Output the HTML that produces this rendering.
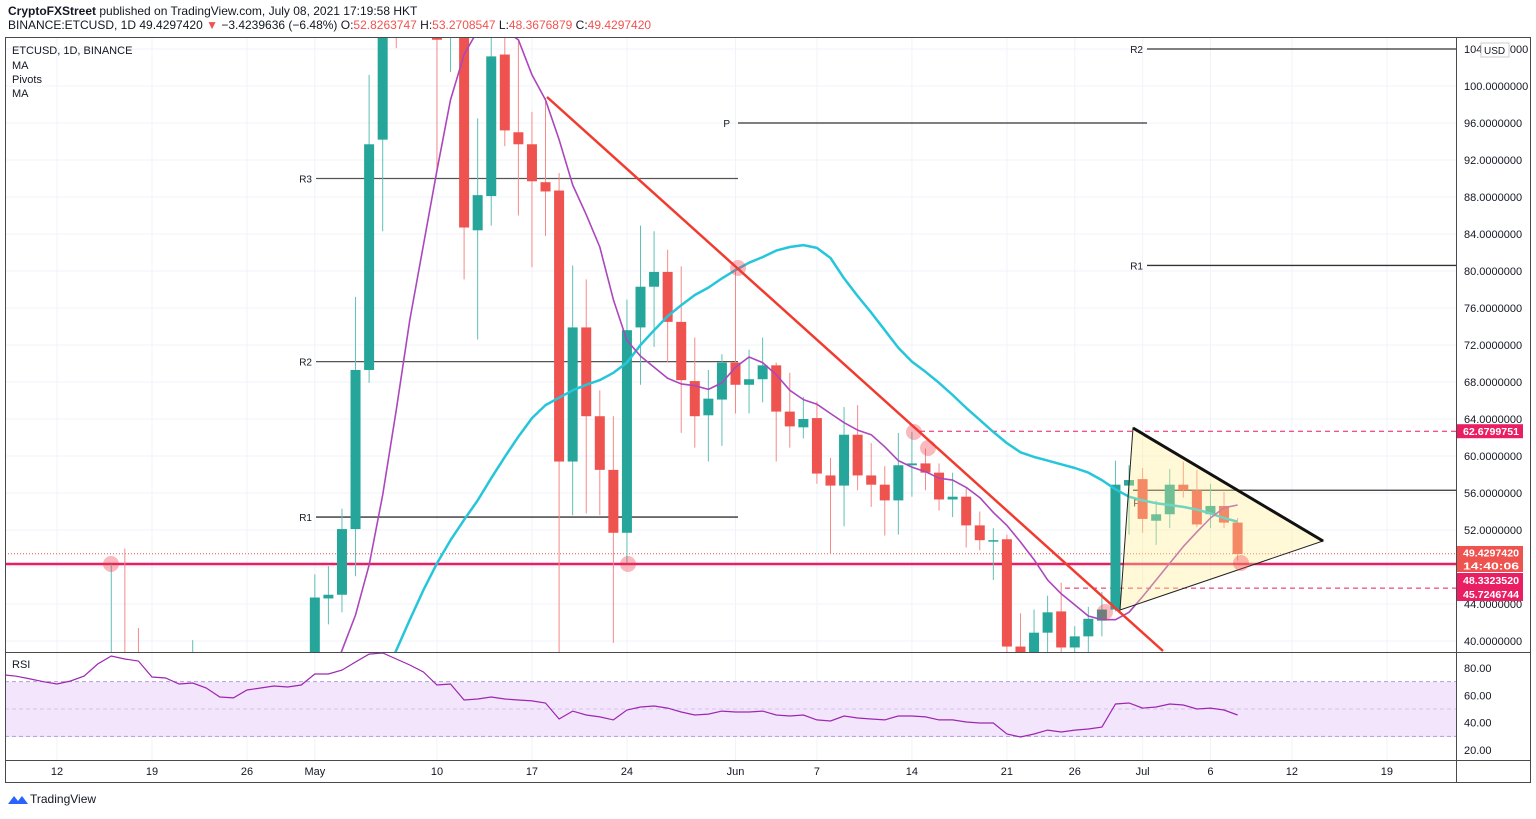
<!DOCTYPE html>
<html><head><meta charset="utf-8"><style>
body{margin:0;background:#fff;width:1536px;height:814px;overflow:hidden;font-family:"Liberation Sans",sans-serif}
svg text{font-family:"Liberation Sans",sans-serif}
</style></head><body>
<svg id="c" width="1536" height="814" xmlns="http://www.w3.org/2000/svg">
<text x="8" y="15" font-size="12" fill="#131722"><tspan font-weight="bold">CryptoFXStreet</tspan> published on TradingView.com, July 08, 2021 17:19:58 HKT</text>
<text x="8" y="29" font-size="12" fill="#131722">BINANCE:ETCUSD, 1D 49.4297420 <tspan fill="#ef5350">▼</tspan> −3.4239636 (−6.48%) O:<tspan fill="#ef5350">52.8263747</tspan> H:<tspan fill="#ef5350">53.2708547</tspan> L:<tspan fill="#ef5350">48.3676879</tspan> C:<tspan fill="#ef5350">49.4297420</tspan></text>
<g id="grid"></g>
<rect x="5" y="682" width="1451" height="55" fill="#f3e5fb"/>
<g id="main" clip-path="url(#pc)"></g>
<g id="rsi" clip-path="url(#rc)"></g>
<defs>
<clipPath id="pc"><rect x="5" y="37" width="1451" height="615"/></clipPath>
<clipPath id="rc"><rect x="5" y="652" width="1451" height="108"/></clipPath>
</defs>
<rect x="5.5" y="37.5" width="1525" height="745" fill="none" stroke="#4a4a4a"/>
<line x1="5" y1="652.5" x2="1530" y2="652.5" stroke="#4a4a4a"/>
<line x1="5" y1="760.5" x2="1530" y2="760.5" stroke="#4a4a4a"/>
<line x1="1456.5" y1="37" x2="1456.5" y2="782" stroke="#4a4a4a"/>
<text x="12" y="54" font-size="11" fill="#131722">ETCUSD, 1D, BINANCE</text>
<text x="12" y="69" font-size="11" fill="#131722">MA</text>
<text x="12" y="83" font-size="11" fill="#131722">Pivots</text>
<text x="12" y="97" font-size="11" fill="#131722">MA</text>
<text x="12" y="668" font-size="11" fill="#131722">RSI</text>
<g id="axes"></g>
<g>
<path d="M8 804 l6 -8 l4 5 l4 -5 l6 8 z" fill="#2962ff"/>
<text x="30" y="803" font-size="12" fill="#131722">TradingView</text>
</g>
</svg>
<script>
// ---------- data ----------
const candleDays=[4,5,6,10,19,20,21,22,23,24,25,26,27,28,29,30,31,32,33,34,35,36,37,38,39,40,41,42,43,44,45,46,47,48,49,50,51,52,53,54,55,56,57,58,59,60,61,62,63,64,65,66,67,68,69,70,71,72,73,74,75,76,77,78,79,80,81,82,83,84,85,86,87];
const opens=[30,32,31,28,38,44.6,45.0,52.1,69.3,94.2,120,110,118,110,105.5,110,84.4,88.1,103.4,95.0,93.7,89.6,88.7,59.4,73.9,64.3,58.5,51.7,73.9,78.3,79.9,74.5,68.1,64.4,66.1,70.1,67.7,68.3,69.8,64.8,63.1,64.1,57.9,56.8,62.3,57.9,56.9,55.2,59.0,59.2,58.2,55.3,55.6,52.5,50.8,51.0,39.4,38.5,40.9,43.2,39.3,40.5,42.2,43.4,56.8,57.5,53.0,53.7,56.9,56.3,53.7,54.6,52.8];
const highs=[48.3,50.0,41.4,40.1,47.2,48.1,54.3,77.2,101.2,115,130,125,125,115,112,115,96.5,108,105.2,104.8,97.2,98.7,90.6,80.6,79.1,67.1,64.3,76.9,84.9,84.3,82.3,80.5,72.8,69.3,71.0,80.1,71.5,72.8,70.1,69.0,66.4,65.9,59.8,65.3,65.5,61.4,58.9,62.5,62.6,60.8,59.2,58.2,56.5,54.0,52.2,51.5,43.0,43.4,44.9,46.3,41.6,43.7,45.3,59.5,59.0,58.7,55.2,58.6,59.4,58.5,57.0,56.1,53.3];
const lows=[28,30,28,26,36,41.8,43.1,47.0,67.9,84.3,104.1,108,108,90.8,101.5,79.1,72.6,84.9,93.5,86.0,80.4,83.8,38,53.6,53.8,53.6,39.8,48.4,67.7,71.8,70.1,62.5,60.9,59.4,61.1,64.6,64.6,65.8,59.4,60.9,61.9,57.0,49.5,52.4,56.3,54.5,51.4,51.5,55.6,56.3,54.1,53.4,50.1,49.8,46.6,36,35,37,38.8,38.8,38.8,38.8,40.5,43.2,51.5,51.7,50.4,52.2,55.5,52.3,52.2,52.2,48.7];
const closes=[32,31,29,29,44.7,45.0,52.1,69.3,93.7,110,110,118,112,105,108,84.7,88.2,103.2,95.2,93.7,89.7,88.6,59.4,73.9,64.3,58.5,51.7,73.6,78.3,79.9,74.5,68.2,64.3,66.2,70.1,67.7,68.3,69.8,64.8,63.2,64.0,58.1,56.8,62.3,57.9,56.9,55.2,59.0,59.2,58.2,55.3,55.6,52.5,50.9,50.9,39.4,37,40.9,43.1,39.3,40.5,42.4,43.4,56.9,57.4,53.2,53.7,56.9,56.3,52.6,54.6,52.8,49.4];
const maSlowStart=24;
const maSlow=[36,39.0,42.3,45.5,48.4,50.9,53.1,55.2,57.6,59.9,62.1,64.1,65.5,66.3,67.1,67.7,68.2,69.0,70.1,72.0,73.6,75.1,76.3,77.4,78.2,79.2,80.1,80.9,81.5,82.2,82.6,82.8,82.5,81.4,79.2,77.3,75.5,73.6,71.7,70.2,69.1,67.9,66.6,65.2,63.9,62.6,61.4,60.4,59.9,59.5,59.1,58.7,58.2,57.4,56.4,55.6,55.2,54.9,54.7,54.5,54.2,53.8,53.3,52.9];
const maFastStart=20;
const maFast=[35,39.0,42.8,48.2,55.8,65.0,74.7,82.8,90.9,98.5,103.4,106,108,106,105,101.2,98.5,94.2,89.3,86.1,82.6,76.9,72.5,70.8,69.6,68.4,67.8,67.6,67.2,67.9,69.6,70.7,70.1,68.8,67.1,66.1,65.6,64.6,63.6,62.8,62.3,61.0,59.5,58.8,58.3,57.6,57.4,56.6,55.5,53.9,52.5,50.7,48.8,46.6,45.1,43.9,42.7,42.3,42.3,43.1,44.8,46.6,48.4,50.2,51.8,53.3,54.4,54.7];
const rsiStart=-4;
const rsiVals=[75,74,72,70,68.3,70.5,74.1,82.9,88.8,86.6,85.1,73.4,72.7,68.3,69.0,65.4,58.8,58.1,63.9,65.4,66.8,66.1,67.6,75.6,75.6,78.5,84.4,90.2,91.0,86.6,82.2,77.1,67.6,68.3,56.6,57.3,58.8,57.3,56.6,55.9,54.4,42.7,48.5,45.6,44.2,42.0,49.3,51.5,52.2,50.7,47.8,45.6,46.3,48.5,47.8,47.8,48.5,45.6,44.9,45.6,42.0,41.2,44.9,43.4,42.7,42.0,44.9,44.9,44.2,42.0,42.0,40.5,39.8,39.8,31.7,29.5,31.7,34.6,33.2,34.6,35.4,36.8,53.7,54.4,50.7,51.5,53.7,52.9,50.0,50.7,49.3,45.6];
const priceTicks=[40,44,48,52,56,60,64,68,72,76,80,84,88,92,96,100,104];
const rsiTicks=[20,40,60,80];
const dateTickDays=[0,7,14,19,28,35,42,50,56,63,70,75,80,85,91,98];
const dateTickLabels=["12","19","26","May","10","17","24","Jun","7","14","21","26","Jul","6","12","19"];
// ---------- scales ----------
const X=d=>57+d*13.57;
const Y=p=>49+(104-p)*9.25;
const RY=v=>668+(80-v)*1.367;
const NS="http://www.w3.org/2000/svg";
function mk(parent,tag,attrs){const e=document.createElementNS(NS,tag);for(const k in attrs)e.setAttribute(k,attrs[k]);parent.appendChild(e);return e;}
const svg=document.getElementById('c'),grid=document.getElementById('grid'),main=document.getElementById('main'),rsi=document.getElementById('rsi'),axes=document.getElementById('axes');
priceTicks.forEach(p=>{const l=mk(grid,'line',{x1:5,x2:1456,y1:Y(p),y2:Y(p),stroke:'#f0f3fa'});


const t=mk(axes,'text',{x:1464,y:Y(p)+4,'font-size':11,fill:'#131722'});t.textContent=p.toFixed(7);

});
dateTickDays.forEach((d,i)=>{const l=mk(grid,'line',{x1:X(d),x2:X(d),y1:37,y2:760,stroke:'#f0f3fa'});


const t=mk(axes,'text',{x:X(d),y:775,'font-size':11,fill:'#131722','text-anchor':'middle'});t.textContent=dateTickLabels[i];

});
rsiTicks.forEach(v=>{const t=mk(axes,'text',{x:1464,y:RY(v)+4,'font-size':11,fill:'#131722'});t.textContent=v.toFixed(2);

});
function hl(x1,x2,p,col,w,name,dash){const l=mk(main,'line',{x1,x2,y1:Y(p),y2:Y(p),stroke:col,'stroke-width':w});if(dash)l.setAttribute('stroke-dasharray',dash);

return l;}
function lbl(x,p,s,name){const t=mk(main,'text',{x,y:Y(p)+4,'font-size':10,fill:'#131722','text-anchor':'end'});t.textContent=s;

}
hl(316,738,90,'#555',1.3,'pivot-r3');lbl(312,90,'R3','pivot-r3-label');
hl(316,738,70.2,'#555',1.3,'pivot-r2');lbl(312,70.2,'R2','pivot-r2-label');
hl(316,738,53.4,'#333',1.3,'pivot-r1');lbl(312,53.4,'R1','pivot-r1-label');
hl(738,1147,96,'#333',1.3,'pivot-p');lbl(730,96,'P','pivot-p-label');
hl(1147,1456,104,'#333',1.3,'pivot-r2-jul');lbl(1143,104,'R2','pivot-r2-jul-label');
hl(1147,1456,80.6,'#333',1.3,'pivot-r1-jul');lbl(1143,80.6,'R1','pivot-r1-jul-label');
hl(1133,1456,56.3,'#333',1.3,'pivot-p-jul');lbl(1140,55,'P','pivot-p-jul-label');
hl(5,1456,49.43,'#ef5350',1,'last-price-line','1 2');
hl(920,1456,62.68,'#e91e63',1,'resistance-dashed','5 4');
hl(1065,1456,45.72,'#e91e63',1,'support-dashed','5 4');
hl(5,1456,48.33,'#e91e63',2.5,'support-line');
candleDays.forEach((d,i)=>{const up=closes[i]>=opens[i];const col=up?'#26a69a':'#ef5350';const x=X(d);
const w=mk(main,'line',{x1:x,x2:x,y1:Y(highs[i]),y2:Y(lows[i]),stroke:up?'#5fc0b5':'#f48a88','stroke-width':1});


const top=Y(Math.max(opens[i],closes[i])),bot=Y(Math.min(opens[i],closes[i]));
const b=mk(main,'rect',{x:x-5,y:top,width:10,height:Math.max(1.5,bot-top),fill:col});

});
function poly(arr,start,col,w,name){const pts=arr.map((v,i)=>X(start+i).toFixed(1)+','+Y(v).toFixed(1)).join(' ');
const p=mk(main,'polyline',{points:pts,fill:'none',stroke:col,'stroke-width':w,'stroke-linejoin':'round'});

}
poly(maSlow,maSlowStart,'#26c6da',2.5,'ma-slow-line');
poly(maFast,maFastStart,'#ab47bc',1.6,'ma-fast-line');
const tl=mk(main,'line',{x1:547,y1:97,x2:1163,y2:651,stroke:'#f23b2f','stroke-width':2.5});


const tri=mk(main,'polygon',{points:'1133,428 1323,541 1120,610',fill:'rgba(255,238,140,0.35)',stroke:'#222','stroke-width':1});


const tt=mk(main,'line',{x1:1133,y1:428,x2:1323,y2:541,stroke:'#111','stroke-width':3});


[[111,564],[628,564],[738,268],[914,432],[928,448],[1105,612],[1241,563]].forEach(c=>{const e=mk(main,'circle',{cx:c[0],cy:c[1],r:8,fill:'rgba(242,54,69,0.35)'});

});
mk(rsi,'line',{x1:5,x2:1456,y1:RY(70),y2:RY(70),stroke:'#b39ddb','stroke-dasharray':'4 3'});
mk(rsi,'line',{x1:5,x2:1456,y1:RY(30),y2:RY(30),stroke:'#b39ddb','stroke-dasharray':'4 3'});
mk(rsi,'line',{x1:5,x2:1456,y1:RY(50),y2:RY(50),stroke:'#d1c4e9','stroke-dasharray':'4 3'});
const rp=mk(rsi,'polyline',{points:rsiVals.map((v,i)=>X(rsiStart+i).toFixed(1)+','+RY(v).toFixed(1)).join(' '),fill:'none',stroke:'#9c27b0','stroke-width':1.2});


function tag(y,h,bg,s,name){const g=mk(axes,'g',{});


mk(g,'rect',{x:1457,y:y-h/2,width:66,height:h,fill:bg});
s.forEach((t,k)=>{const e=mk(g,'text',{x:1463,y:y+4+k*13-(s.length-1)*6.5,'font-size':10.5,fill:'#fff','font-weight':'bold',textLength:56,lengthAdjust:'spacingAndGlyphs'});e.textContent=t;});}
tag(Y(62.68),14,'#e91e63',['62.6799751'],'tag-resistance');
tag(559,26,'#ef5350',['49.4297420','14:40:06'],'tag-last-price');
tag(580,14,'#e91e63',['48.3323520'],'tag-support');
tag(594,14,'#e91e63',['45.7246744'],'tag-support2');
const ub=mk(axes,'rect',{x:1481,y:43,width:28,height:14,fill:'#fff',stroke:'#ccc'});


const ut=mk(axes,'text',{x:1484,y:54,'font-size':10,fill:'#131722'});ut.textContent='USD';


</script>
</body></html>
